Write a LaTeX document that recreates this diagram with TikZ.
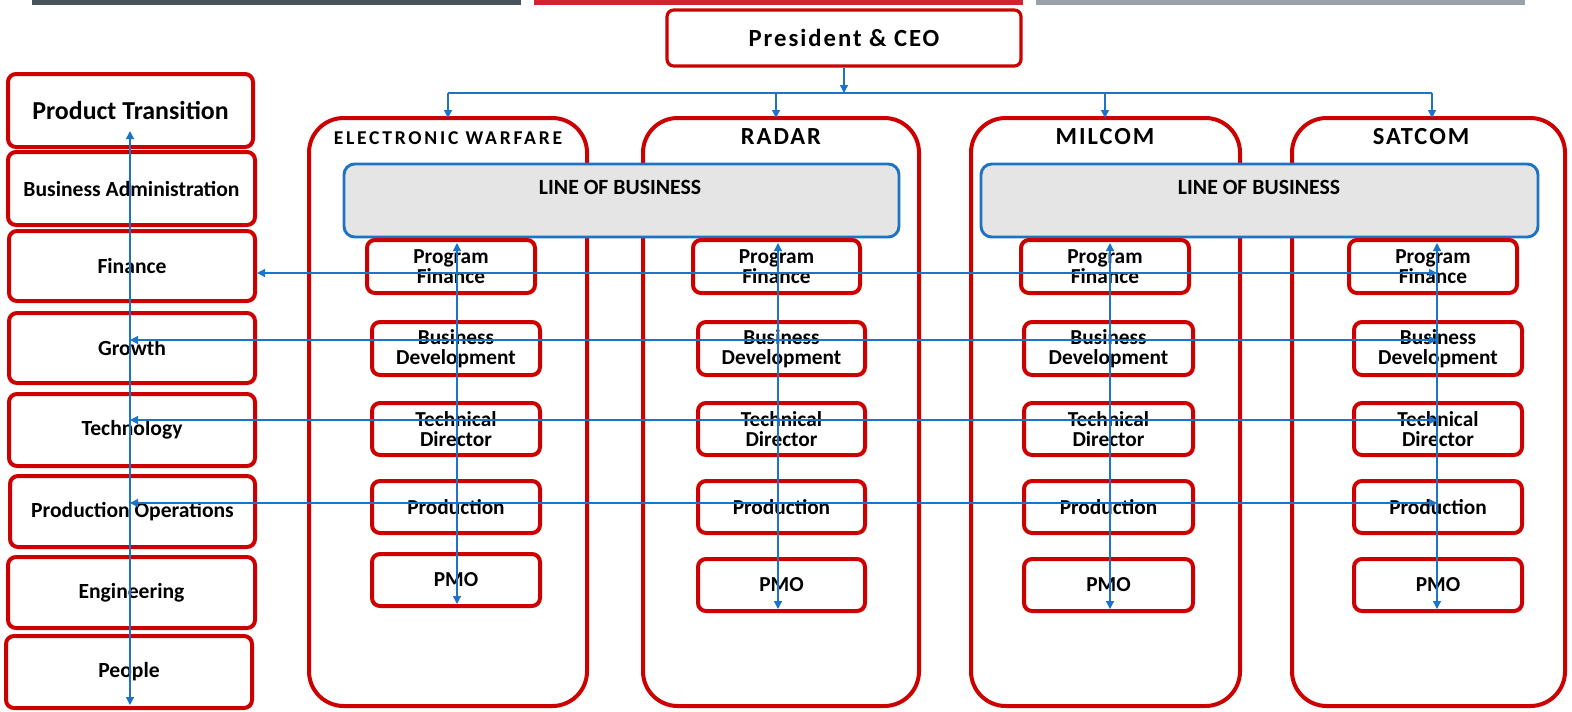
\documentclass[tikz,border=0pt]{standalone}
\usepackage{fontspec}
\setmainfont{Carlito}
\newfontfamily\trackedfont[LetterSpace=8]{Carlito}
\newfontfamily\wtrackedfont[LetterSpace=14]{Carlito}
\usetikzlibrary{arrows.meta}
\definecolor{boxred}{HTML}{CC0000}
\definecolor{linkblue}{HTML}{1B74C8}
\definecolor{lobgray}{HTML}{E5E5E5}
\definecolor{lobblue}{HTML}{1F73C4}
\definecolor{bardark}{HTML}{48525A}
\definecolor{barred}{HTML}{D2232F}
\definecolor{bargray}{HTML}{9AA1A9}
% a box given by its two corners, in pixel units
\newcommand\cornerbox[7]{%
  \pgfmathsetmacro\cbx{(#3+#5)/2}\pgfmathsetmacro\cby{(#4+#6)/2}%
  \pgfmathsetmacro\cbw{(#5-#3)*0.75}\pgfmathsetmacro\cbh{(#6-#4)*0.75}%
  \node[#1, minimum width=\cbw pt, minimum height=\cbh pt] (#2) at (\cbx,\cby) {#7};}
\tikzset{
  redbox/.style={draw=boxred, line width=3pt, rounded corners=6pt, inner sep=0pt,
    align=center, font=\bfseries\fontsize{16}{15}\selectfont},
  sidebox/.style={redbox, font=\bfseries\fontsize{16.2}{17}\selectfont},
  ceobox/.style={redbox, line width=2.4pt, rounded corners=5pt},
  unitbox/.style={draw=boxred, line width=3pt, rounded corners=26pt, inner sep=0pt},
  lobbox/.style={draw=lobblue, fill=lobgray, line width=2.2pt, rounded corners=8pt, inner sep=0pt},
  unittitle/.style={font=\trackedfont\bfseries\fontsize{18.4}{20}\selectfont, inner sep=0pt},
  ewtitle/.style={font=\wtrackedfont\bfseries\fontsize{14.7}{16}\selectfont, inner sep=0pt},
  lobtitle/.style={font=\bfseries\fontsize{16.3}{18}\selectfont, inner sep=0pt},
  link/.style={draw=linkblue, line width=0.9pt},
  both/.style={link, {Triangle[length=6pt,width=6pt]}-{Triangle[length=6pt,width=6pt]}},
  down/.style={link, -{Triangle[length=6pt,width=6pt]}},
}
\begin{document}
\begin{tikzpicture}[x=0.75pt,y=-0.75pt]
\useasboundingbox (0,0) rectangle (1572,711);

% header bars
\fill[bardark] (32,0) rectangle (521,5);
\fill[barred] (534,0) rectangle (1023,5);
\fill[bargray] (1036,0) rectangle (1525,5);

% president
\cornerbox{ceobox, font=\trackedfont\bfseries\fontsize{18.5}{20}\selectfont}{ceo}{667}{10}{1021}{66}{President \& CEO}

% support functions
\cornerbox{sidebox, font=\bfseries\fontsize{19.4}{21}\selectfont}{pt}{8}{74}{253}{147}{Product Transition}
\cornerbox{sidebox}{ba}{8}{152}{255}{225}{Business Administration}
\cornerbox{sidebox}{fin}{9}{231}{255}{301}{Finance}
\cornerbox{sidebox}{gro}{9}{313}{255}{383}{Growth}
\cornerbox{sidebox}{tec}{9}{394}{255}{466}{Technology}
\cornerbox{sidebox}{pro}{10}{476}{255}{547}{Production Operations}
\cornerbox{sidebox}{eng}{8}{557}{255}{628}{Engineering}
\cornerbox{sidebox}{peo}{6}{636}{252}{708}{People}

% business units
\cornerbox{unitbox}{ew}{309}{118}{587}{706}{}
\cornerbox{unitbox}{rad}{643}{118}{919}{706}{}
\cornerbox{unitbox}{mil}{971}{118}{1240}{706}{}
\cornerbox{unitbox}{sat}{1292}{118}{1565}{706}{}
\node[ewtitle] (ewt) at (448,138) {ELECTRONIC WARFARE};
\node[unittitle] (radt) at (781,137) {RADAR};
\node[unittitle] (milt) at (1105,137) {MILCOM};
\node[unittitle] (satt) at (1421,137) {SATCOM};

% lines of business
\cornerbox{lobbox}{loba}{344}{164}{899}{237}{}
\cornerbox{lobbox}{lobb}{981}{164}{1538}{237}{}
\node[lobtitle] (lobat) at (620,187) {LINE OF BUSINESS};
\node[lobtitle] (lobbt) at (1259,187) {LINE OF BUSINESS};

% unit staff
\cornerbox{redbox}{ewpf}{367}{240}{535}{293}{Program\\Finance}
\cornerbox{redbox}{ewbd}{372}{322}{540}{375}{Business\\Development}
\cornerbox{redbox}{ewtd}{372}{403}{540}{455}{Technical\\Director}
\cornerbox{redbox}{ewpr}{372}{481}{540}{533}{Production}
\cornerbox{redbox}{ewpm}{372}{554}{540}{606}{PMO}

\cornerbox{redbox}{radpf}{693}{240}{860}{293}{Program\\Finance}
\cornerbox{redbox}{radbd}{698}{322}{865}{375}{Business\\Development}
\cornerbox{redbox}{radtd}{698}{403}{865}{455}{Technical\\Director}
\cornerbox{redbox}{radpr}{698}{481}{865}{533}{Production}
\cornerbox{redbox}{radpm}{698}{559}{865}{611}{PMO}

\cornerbox{redbox}{milpf}{1021}{240}{1189}{293}{Program\\Finance}
\cornerbox{redbox}{milbd}{1024}{322}{1193}{375}{Business\\Development}
\cornerbox{redbox}{miltd}{1024}{403}{1193}{455}{Technical\\Director}
\cornerbox{redbox}{milpr}{1024}{481}{1193}{533}{Production}
\cornerbox{redbox}{milpm}{1024}{559}{1193}{611}{PMO}

\cornerbox{redbox}{satpf}{1349}{240}{1517}{293}{Program\\Finance}
\cornerbox{redbox}{satbd}{1354}{322}{1522}{375}{Business\\Development}
\cornerbox{redbox}{sattd}{1354}{403}{1522}{455}{Technical\\Director}
\cornerbox{redbox}{satpr}{1354}{481}{1522}{533}{Production}
\cornerbox{redbox}{satpm}{1354}{559}{1522}{611}{PMO}

% reporting lines from the president
\coordinate (bus) at (845,93);
\coordinate (ewDrop) at (448,118);
\coordinate (radDrop) at (776,118);
\coordinate (milDrop) at (1105,118);
\coordinate (satDrop) at (1432,118);
\draw[down] (ceo) -- (ceo.south |- bus);
\draw[link] (ewDrop |- bus) -- (satDrop |- bus);
\foreach \u in {ew,rad,mil,sat}
  \draw[down] (\u Drop |- bus) -- (\u Drop);

% functional trunks
\coordinate (trunkTop) at (130,131);
\coordinate (trunkBot) at (130,705);
\draw[both] (trunkTop) -- (trunkBot);

\coordinate (ewTop) at (457,243);   \coordinate (ewBot) at (457,604);
\coordinate (radTop) at (778,243);  \coordinate (radBot) at (778,609);
\coordinate (milTop) at (1110,243); \coordinate (milBot) at (1110,609);
\coordinate (satTop) at (1437,243); \coordinate (satBot) at (1437,609);
\draw[both] (ewTop) -- (ewBot);
\draw[both] (radTop) -- (radBot);
\draw[both] (milTop) -- (milBot);
\draw[both] (satTop) -- (satBot);

% functional rows
\coordinate (finRow) at (1437,273);
\coordinate (groRow) at (1437,340);
\coordinate (tecRow) at (1437,420);
\coordinate (proRow) at (1437,503);
\draw[both] (fin.east |- finRow) -- (finRow);
\draw[both] (trunkTop |- groRow) -- (groRow);
\draw[both] (trunkTop |- tecRow) -- (tecRow);
\draw[both] (trunkTop |- proRow) -- (proRow);
\end{tikzpicture}
\end{document}
